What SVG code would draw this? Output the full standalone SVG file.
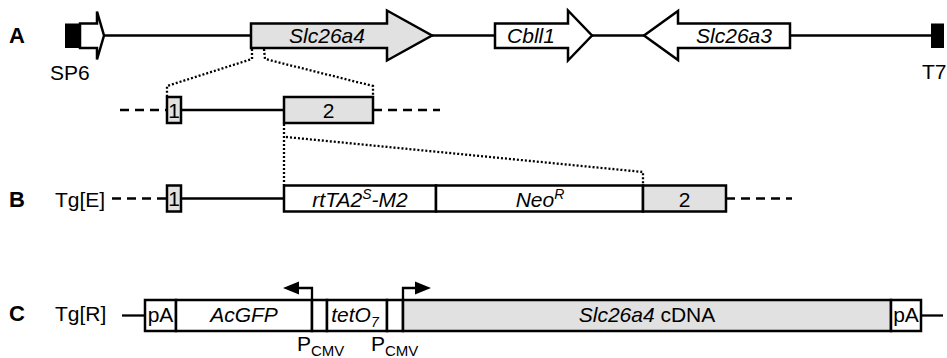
<svg xmlns="http://www.w3.org/2000/svg" width="947" height="358" viewBox="0 0 947 358">
  <style>
    .t { font-family: "Liberation Sans", Arial, Helvetica, sans-serif; font-size: 21px; fill: #000; }
    .i { font-style: italic; }
    .lbl { font-weight: bold; font-size: 22px; }
    .box { stroke: #000; stroke-width: 2.5; }
    .w { fill: #fff; }
    .g { fill: #e1e1e1; }
    .ln { stroke: #000; stroke-width: 2.3; fill: none; }
    .dash { stroke: #000; stroke-width: 2.3; fill: none; stroke-dasharray: 9 6; }
    .dot { stroke: #000; stroke-width: 2.3; fill: none; stroke-dasharray: 2 2; }
  </style>

  <!-- panel letters and construct names -->
  <g id="labels">
    <text class="t lbl" x="9" y="43">A</text>
    <text class="t lbl" x="9" y="207">B</text>
    <text class="t lbl" x="9" y="321">C</text>
    <text class="t" x="55" y="207">Tg[E]</text>
    <text class="t" x="55" y="321">Tg[R]</text>
  </g>

  <!-- backbone lines, flanking dashes and dotted zoom guides -->
  <g id="connectors">
    <line class="ln" x1="103" y1="35.5" x2="251" y2="35.5"/>
    <line class="ln" x1="432" y1="35.5" x2="495" y2="35.5"/>
    <line class="ln" x1="592" y1="35.5" x2="644" y2="35.5"/>
    <line class="ln" x1="790" y1="35.5" x2="931" y2="35.5"/>

    <line class="dash" x1="120" y1="110" x2="167" y2="110"/>
    <line class="ln" x1="181" y1="110" x2="284" y2="110"/>
    <line class="dash" x1="373" y1="110" x2="440" y2="110"/>

    <line class="dash" x1="112" y1="198.5" x2="167" y2="198.5"/>
    <line class="ln" x1="181" y1="198.5" x2="284" y2="198.5"/>
    <line class="dash" x1="726" y1="198.5" x2="792" y2="198.5"/>

    <line class="ln" x1="122" y1="315.5" x2="145" y2="315.5"/>
    <line class="ln" x1="921" y1="315.5" x2="943" y2="315.5"/>

    <polyline class="dot" points="252,49 252,59 167,86 167,97"/>
    <polyline class="dot" points="264,49 265,59 373,86 373,97"/>
    <polyline class="dot" points="284,124 284,185"/>
    <polyline class="dot" points="286,137 643,172 643,185"/>
  </g>

  <!-- row A: genomic locus -->
  <g id="sp6">
    <rect x="65" y="23.5" width="15" height="24.5" fill="#000"/>
    <path class="box w" d="M80,23.5 H97 V11.5 L104,35.5 L97,59.5 V48 H80 Z"/>
    <text class="t" x="50" y="80">SP6</text>
  </g>
  <g id="slc26a4">
    <path class="box g" d="M251,23.5 H387 V10.5 L432,35.5 L387,60.5 V48 H251 Z"/>
    <text class="t i" x="327" y="43" text-anchor="middle">Slc26a4</text>
  </g>
  <g id="cbll1">
    <path class="box w" d="M495,23.5 H568 V10.5 L592,35.5 L568,60.5 V48 H495 Z"/>
    <text class="t i" x="531" y="43" text-anchor="middle">Cbll1</text>
  </g>
  <g id="slc26a3">
    <path class="box w" d="M790,23.5 H678 V11 L644,35.5 L678,60 V48 H790 Z"/>
    <text class="t i" x="734" y="43" text-anchor="middle">Slc26a3</text>
  </g>
  <g id="t7">
    <rect x="931" y="23.5" width="13" height="24.5" fill="#000"/>
    <text class="t" x="922" y="79">T7</text>
  </g>

  <!-- exons 1 and 2 -->
  <g id="exon1">
    <rect class="box g" x="167" y="97" width="14" height="26"/>
    <text class="t" x="174" y="117.5" text-anchor="middle">1</text>
  </g>
  <g id="exon2">
    <rect class="box g" x="284" y="97" width="89" height="26"/>
    <text class="t" x="328.5" y="117.5" text-anchor="middle">2</text>
  </g>

  <!-- row B: Tg[E] knock-in -->
  <g id="tge-exon1">
    <rect class="box g" x="167" y="185.5" width="14" height="26"/>
    <text class="t" x="174" y="206" text-anchor="middle">1</text>
  </g>
  <g id="rtta">
    <rect class="box w" x="284" y="185.5" width="152" height="26"/>
    <text class="t i" x="360" y="207" text-anchor="middle">rtTA2<tspan font-size="14" dy="-8">S</tspan><tspan dy="8">-M2</tspan></text>
  </g>
  <g id="neor">
    <rect class="box w" x="436" y="185.5" width="207" height="26"/>
    <text class="t i" x="540" y="207" text-anchor="middle">Neo<tspan font-size="14" dy="-8">R</tspan></text>
  </g>
  <g id="tge-exon2">
    <rect class="box g" x="643" y="185.5" width="83" height="26"/>
    <text class="t" x="684.5" y="207" text-anchor="middle">2</text>
  </g>

  <!-- row C: Tg[R] responder -->
  <g id="pa-left">
    <rect class="box w" x="145" y="300" width="31" height="31"/>
    <text class="t" x="160.5" y="322" text-anchor="middle">pA</text>
  </g>
  <g id="acgfp">
    <rect class="box w" x="176" y="300" width="136" height="31"/>
    <text class="t i" x="244" y="322" text-anchor="middle">AcGFP</text>
  </g>
  <g id="pcmv-left">
    <rect class="box w" x="312" y="300" width="15" height="31"/>
    <path class="ln" d="M312,300 V288 H298"/>
    <polygon points="283,288 299,281.5 299,294.5" fill="#000"/>
    <text class="t" x="297" y="351">P<tspan font-size="15" dy="5">CMV</tspan></text>
  </g>
  <g id="teto7">
    <rect class="box w" x="327" y="300" width="60" height="31"/>
    <text class="t i" x="355" y="322" text-anchor="middle">tetO<tspan font-size="14" dy="5">7</tspan></text>
  </g>
  <g id="pcmv-right">
    <rect class="box w" x="387" y="300" width="16" height="31"/>
    <path class="ln" d="M403,300 V288 H417"/>
    <polygon points="431,288 415,281.5 415,294.5" fill="#000"/>
    <text class="t" x="371" y="351">P<tspan font-size="15" dy="5">CMV</tspan></text>
  </g>
  <g id="slc26a4-cdna">
    <rect class="box g" x="403" y="300" width="488" height="31"/>
    <text class="t" x="647" y="322" text-anchor="middle"><tspan font-style="italic">Slc26a4</tspan> cDNA</text>
  </g>
  <g id="pa-right">
    <rect class="box w" x="891" y="300" width="30" height="31"/>
    <text class="t" x="906" y="322" text-anchor="middle">pA</text>
  </g>
</svg>
